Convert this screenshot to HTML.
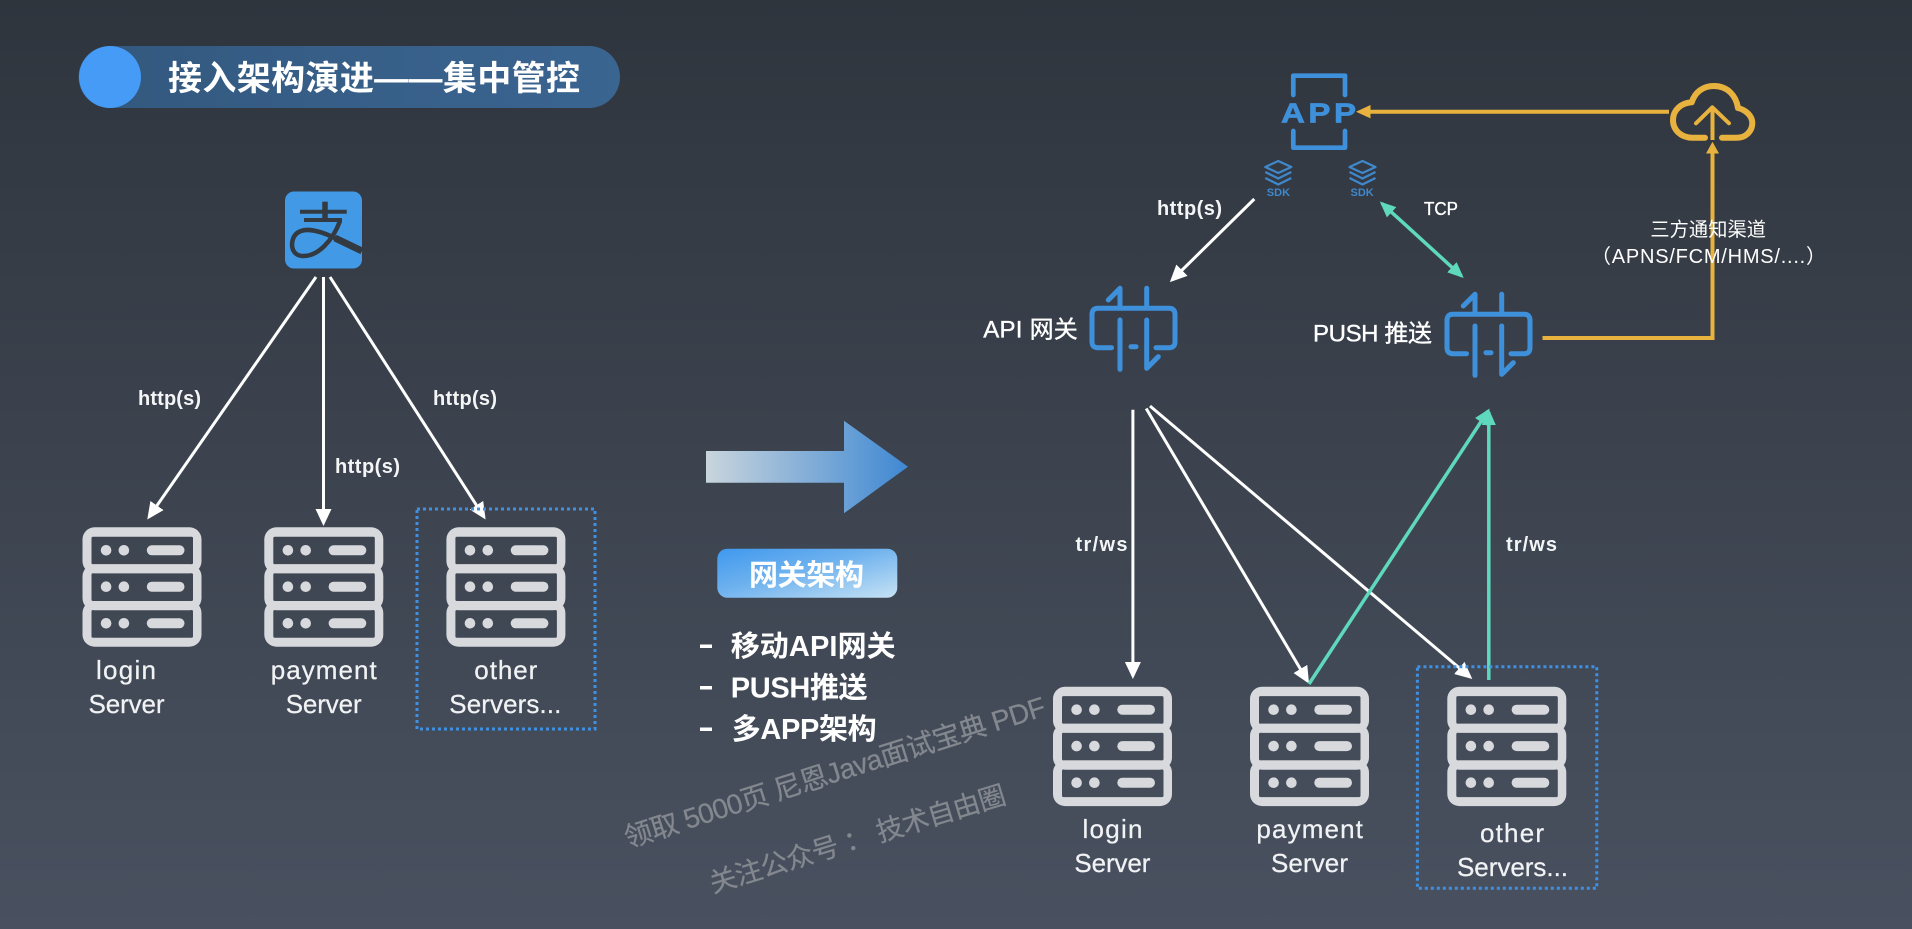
<!DOCTYPE html>
<html lang="zh"><head><meta charset="utf-8"><title>接入架构演进——集中管控</title>
<style>
html,body{margin:0;padding:0;width:1912px;height:929px;overflow:hidden;background:#3c434d}
svg{display:block}
text{font-family:"Liberation Sans","Noto Sans CJK SC",sans-serif;fill:#fff}
.m{stroke:#fff;stroke-width:.35px}
.b{font-weight:bold}
.sv{font-size:26px;fill:#f1f2f4;stroke:#f1f2f4;stroke-width:.25px}
.l{font-size:20px;font-weight:bold;fill:#f4f5f6}
.li{font-size:29px;font-weight:bold}
.wm{fill:#83878e;stroke:#83878e;stroke-width:.25px}
</style></head><body>
<svg width="1912" height="929" viewBox="0 0 1912 929" xmlns="http://www.w3.org/2000/svg">
<defs>
<linearGradient id="bg" x1="0" y1="0" x2="0" y2="1"><stop offset="0" stop-color="#2f353d"/><stop offset="1" stop-color="#495160"/></linearGradient>
<linearGradient id="ti" x1="0" y1="0" x2="1" y2="0"><stop offset="0" stop-color="#33587e"/><stop offset="1" stop-color="#3a6591"/></linearGradient>
<linearGradient id="ar" x1="0" y1="0" x2="1" y2="0"><stop offset="0" stop-color="#c9d5dc"/><stop offset="1" stop-color="#3f88d3"/></linearGradient>
<linearGradient id="bt" x1="0" y1="0" x2="1" y2="1"><stop offset="0" stop-color="#3f98ee"/><stop offset=".45" stop-color="#6fb2ee"/><stop offset="1" stop-color="#c6e2f4"/></linearGradient>
<marker id="w" markerUnits="userSpaceOnUse" markerWidth="20" markerHeight="18" refX="14" refY="8" orient="auto"><path d="M0 0L17 8L0 16z" fill="#fff"/></marker>
<marker id="g" markerUnits="userSpaceOnUse" markerWidth="18" markerHeight="16" refX="13" refY="7" orient="auto"><path d="M0 0L16 7L0 14z" fill="#5fd9bd"/></marker>
<marker id="gs" markerUnits="userSpaceOnUse" markerWidth="18" markerHeight="16" refX="3" refY="7" orient="auto"><path d="M16 0L0 7L16 14z" fill="#5fd9bd"/></marker>
<symbol id="srv" width="120" height="120" viewBox="0 0 120 120" overflow="visible">
 <g fill="#d7d9dc" fill-rule="evenodd">
  <path d="M12 0H107a12 12 0 0 1 12 12V34a12 12 0 0 1 -12 12H12a12 12 0 0 1 -12 -12V12a12 12 0 0 1 12 -12zM10.5 9.4a1.5 1.5 0 0 0 -1.5 1.5V35.500a1.5 1.5 0 0 0 1.5 1.5H109a1.5 1.5 0 0 0 1.500 -1.5V10.900a1.5 1.5 0 0 0 -1.5 -1.5z"/>
  <path d="M12 37H107a12 12 0 0 1 12 12V71a12 12 0 0 1 -12 12H12a12 12 0 0 1 -12 -12V49a12 12 0 0 1 12 -12zM10.5 46a1.5 1.5 0 0 0 -1.5 1.5V72.200a1.5 1.5 0 0 0 1.5 1.5H109a1.5 1.5 0 0 0 1.500 -1.5V47.500a1.5 1.5 0 0 0 -1.5 -1.5z"/>
  <path d="M12 73.700H107a12 12 0 0 1 12 12V107.400a12 12 0 0 1 -12 12H12a12 12 0 0 1 -12 -12V85.700a12 12 0 0 1 12 -12zM10.500 82.700a1.500 1.500 0 0 0 -1.500 1.500V108.900a1.500 1.500 0 0 0 1.500 1.500H109a1.500 1.500 0 0 0 1.500 -1.500V84.200a1.500 1.500 0 0 0 -1.500 -1.500z"/>
  <circle cx="23.6" cy="23" r="5.3"/><circle cx="41.4" cy="23" r="5.3"/><rect x="64.3" y="18" width="37.7" height="10" rx="5"/>
  <circle cx="23.6" cy="59.4" r="5.3"/><circle cx="41.4" cy="59.4" r="5.3"/><rect x="64.3" y="54.4" width="37.7" height="10" rx="5"/>
  <circle cx="23.6" cy="96" r="5.3"/><circle cx="41.4" cy="96" r="5.3"/><rect x="64.3" y="91" width="37.7" height="10" rx="5"/>
 </g>
</symbol>
<symbol id="gw" width="100" height="90" viewBox="1085 285 100 90" overflow="visible">
 <g fill="none" stroke="#3f90da" stroke-width="5" stroke-linecap="round" stroke-linejoin="round">
  <path d="M1111.5 347.7H1098q-6 0 -6 -6V314.3q0 -6 6 -6H1169q6 0 6 6V341.7q0 6 -6 6H1156"/>
  <path d="M1108.3 300L1120 288.3V308"/><path d="M1146.7 288.3V308"/>
  <path d="M1120 320V369.3"/><path d="M1146.7 320V368.3L1158.3 356.7"/>
  <path d="M1131 346.7H1136"/>
 </g>
</symbol>
<symbol id="sdk" width="28" height="26" viewBox="0 0 28 26" overflow="visible">
 <g fill="none" stroke="#3f88cc" stroke-width="2.2" stroke-linejoin="round">
  <path d="M14 1L27 7L14 13L1 7z"/><path d="M1 12L14 18.500L27 12"/><path d="M1 18L14 24.500L27 18"/>
 </g>
</symbol>
</defs>
<rect width="1912" height="929" fill="url(#bg)"/>

<!-- title -->
<rect x="78.5" y="46" width="541.5" height="62" rx="31" fill="url(#ti)"/>
<circle cx="110" cy="77" r="31" fill="#459bf6"/>
<text x="168" y="90" font-size="34" class="b" textLength="412">接入架构演进——集中管控</text>

<!-- alipay -->
<rect x="285" y="191.500" width="77" height="77" rx="9" fill="#429ae6"/>
<g fill="none" stroke="#333a42">
 <path d="M300 211.700H346.700" stroke-width="4"/>
 <path d="M304 220H342" stroke-width="4"/>
 <path d="M325 201.700V220" stroke-width="5.500"/>
 <path d="M340 221C333 240 318 257 302 256C290 255 290 240 296 234C305 225 325 233 337 239" stroke-width="4.500"/>
 <path d="M335 238L362 251" stroke-width="7"/>
</g>

<!-- left connectors -->
<g stroke="#fff" stroke-width="3" fill="none">
 <line x1="316" y1="277" x2="149" y2="517" marker-end="url(#w)"/>
 <line x1="323.5" y1="277" x2="323.5" y2="523" marker-end="url(#w)"/>
 <line x1="330" y1="277" x2="484" y2="517" marker-end="url(#w)"/>
</g>
<text x="138" y="405" class="l" textLength="63">http(s)</text>
<text x="335" y="473" class="l" textLength="65">http(s)</text>
<text x="433" y="405" class="l" textLength="64">http(s)</text>

<!-- left servers -->
<use href="#srv" x="82.5" y="527.3"/>
<use href="#srv" x="264.3" y="527.3"/>
<use href="#srv" x="446.4" y="527.3"/>
<rect x="417" y="509" width="178" height="220" fill="none" stroke="#3f90e0" stroke-width="3" stroke-dasharray="3 3"/>
<text x="96" y="679" class="sv" textLength="60">login</text>
<text x="88.5" y="713" class="sv" textLength="76">Server</text>
<text x="270.7" y="679" class="sv" textLength="106">payment</text>
<text x="285.7" y="713" class="sv" textLength="76">Server</text>
<text x="474.3" y="679" class="sv" textLength="63">other</text>
<text x="449.3" y="713" class="sv" textLength="112">Servers...</text>

<!-- center -->
<polygon points="706,451 844,451 844,420.7 908,466.7 844,513.3 844,482.7 706,482.7" fill="url(#ar)"/>
<rect x="717.3" y="548.7" width="180" height="49" rx="10" fill="url(#bt)"/>
<text x="749" y="585" font-size="29" class="b" textLength="115">网关架构</text>
<rect x="700" y="644.5" width="12" height="3.5" fill="#fff"/>
<rect x="700" y="686" width="12" height="3.5" fill="#fff"/>
<rect x="700" y="727.5" width="12" height="3.5" fill="#fff"/>
<text x="730.7" y="656" class="li" textLength="165">移动API网关</text>
<text x="730.7" y="697.5" class="li" textLength="137">PUSH推送</text>
<text x="731.7" y="739" class="li" textLength="145">多APP架构</text>

<!-- watermark -->
<text class="wm" font-size="28" transform="translate(628 848) rotate(-17.6)" textLength="440">领取 5000页 尼恩Java面试宝典 PDF</text>
<text class="wm" font-size="27" transform="translate(713 893) rotate(-17)" textLength="308">关注公众号 ： 技术自由圈</text>

<!-- APP -->
<g fill="none" stroke="#3f90da" stroke-width="4.700" stroke-linejoin="round" stroke-linecap="round">
 <path d="M1293.300 95V75.700H1345V95"/>
 <path d="M1293.300 131V147.700H1345V131"/>
</g>
<text transform="translate(1281 122.500) scale(1.18 1)" font-size="28" class="b" style="fill:#3f90da;stroke:#3f90da;stroke-width:.7px;letter-spacing:3px">APP</text>
<use href="#sdk" x="1264.300" y="160"/>
<use href="#sdk" x="1348.500" y="160"/>
<text x="1266.800" y="196" font-size="11" class="b" style="fill:#3f88cc">SDK</text>
<text x="1350.500" y="196" font-size="11" class="b" style="fill:#3f88cc">SDK</text>

<!-- cloud + orange -->
<g fill="none" stroke="#e8b23e" stroke-linecap="round" stroke-linejoin="round">
 <path stroke-width="6" d="M1705 137.700H1692C1681 137.700 1673 130 1673 120C1673 110 1681 103 1691.700 102.300C1695 92 1703 86 1714 86C1727 86 1736 95 1738 108C1746 110 1752.300 116 1752.300 123C1752.300 131 1746 137.700 1737 137.700H1722"/>
 <path stroke-width="4" d="M1696 123.300L1712.300 107.300L1729 123.300"/>
</g>
<g fill="none" stroke="#e8b23e" stroke-width="4">
 <line x1="1712.500" y1="107.300" x2="1712.500" y2="140"/>
 <line x1="1669" y1="111.700" x2="1369" y2="111.700"/>
 <path d="M1542.500 338H1712.500V152"/>
</g>
<polygon points="1356,111.700 1370.500,105 1370.500,118.400" fill="#e8b23e"/>
<polygon points="1712.500,141.700 1706,153.500 1719,153.500" fill="#e8b23e"/>
<text x="1650.4" y="236" font-size="19.200" textLength="115.5">三方通知渠道</text>
<text x="1591" y="263" font-size="20" textLength="235">（APNS/FCM/HMS/....）</text>

<!-- gateways -->
<use href="#gw" x="1085" y="285"/>
<use href="#gw" x="1440" y="291"/>
<text x="983.3" y="337.5" font-size="24" class="m" textLength="94.5">API 网关</text>
<text x="1313" y="341.5" font-size="24" class="m" textLength="119">PUSH 推送</text>

<!-- right connectors -->
<g stroke-width="3" fill="none">
 <line x1="1254.3" y1="199" x2="1172" y2="280" stroke="#fff" marker-end="url(#w)"/>
 <line x1="1382" y1="203.5" x2="1461.5" y2="276" stroke="#5fd9bd" stroke-width="3.5" marker-start="url(#gs)" marker-end="url(#g)"/>
 <line x1="1132.9" y1="409.7" x2="1132.9" y2="676" stroke="#fff" marker-end="url(#w)"/>
 <line x1="1146.2" y1="408.5" x2="1307.5" y2="681" stroke="#fff" marker-end="url(#w)"/>
 <line x1="1150" y1="406" x2="1470" y2="677" stroke="#fff" marker-end="url(#w)"/>
 <line x1="1309" y1="684" x2="1488" y2="411" stroke="#5fd9bd" stroke-width="3.5" marker-end="url(#g)"/>
 <line x1="1488.8" y1="680" x2="1488.8" y2="412" stroke="#5fd9bd" stroke-width="3.5" marker-end="url(#g)"/>
</g>
<text x="1157" y="215" class="l" textLength="65">http(s)</text>
<text x="1424" y="215" font-size="18" class="m" textLength="34" lengthAdjust="spacingAndGlyphs">TCP</text>
<text x="1075.5" y="551" class="l" textLength="52">tr/ws</text>
<text x="1506" y="551" class="l" textLength="51">tr/ws</text>

<!-- right servers -->
<use href="#srv" x="1053" y="686.7"/>
<use href="#srv" x="1250" y="686.7"/>
<use href="#srv" x="1447.3" y="686.7"/>
<rect x="1417.4" y="666.7" width="179.4" height="221.6" fill="none" stroke="#3f90e0" stroke-width="3" stroke-dasharray="3 3"/>
<text x="1082.5" y="838" class="sv" textLength="60">login</text>
<text x="1074.4" y="872" class="sv" textLength="76">Server</text>
<text x="1256.4" y="838" class="sv" textLength="106.5">payment</text>
<text x="1271" y="872" class="sv" textLength="77">Server</text>
<text x="1480" y="842" class="sv" textLength="64">other</text>
<text x="1457" y="876" class="sv" textLength="111">Servers...</text>
</svg>
</body></html>
